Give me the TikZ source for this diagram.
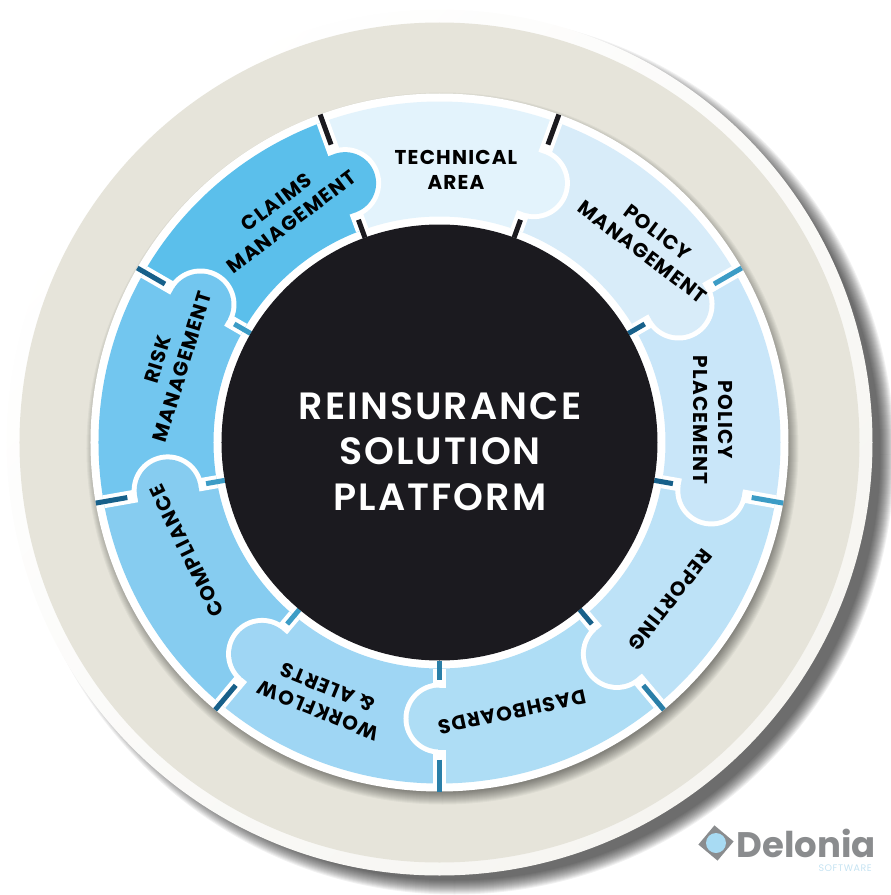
\documentclass[tikz,border=0pt]{standalone}
\usepackage{fontspec}
\setmainfont{Poppins}
\newfontfamily\titlefont{Poppins SemiBold}
\definecolor{inkblack}{HTML}{1B1A1F}
\definecolor{beige}{HTML}{E6E4DA}
\definecolor{rimwhite}{HTML}{F6F5F1}
\definecolor{techblue}{HTML}{E3F3FC}
\definecolor{pmblue}{HTML}{D8ECF9}
\definecolor{placeblue}{HTML}{C9E6F9}
\definecolor{repblue}{HTML}{BDE2F7}
\definecolor{dashblue}{HTML}{AEDDF5}
\definecolor{flowblue}{HTML}{9FD6F4}
\definecolor{compblue}{HTML}{86CCF0}
\definecolor{riskblue}{HTML}{72C6EF}
\definecolor{claimblue}{HTML}{5BBFEB}
\definecolor{tickdark}{HTML}{17608A}
\definecolor{tickmid}{HTML}{2A7FA8}
\definecolor{ticklight}{HTML}{3C9CC6}
\definecolor{logogray}{HTML}{8A8C8E}
\definecolor{logoblue}{HTML}{A8DBF3}
\definecolor{softblue}{HTML}{C5E3F2}
\tikzset{
  wheellabel/.style={font=\fontsize{20}{25}\selectfont\bfseries\addfontfeatures{LetterSpace=6},text=black,align=center,inner sep=0pt},
  tickline/.style={line width=5pt}
}
\begin{document}
\begin{tikzpicture}[x=1pt,y=1pt]
\useasboundingbox (-439.5,-452.5) rectangle (451.5,442.5);
\foreach \i in {0,...,14}
  \fill[black,opacity=0.055] (15,-12) circle (440-\i);
\shade[left color=white,right color=rimwhite,shading angle=45] (0,0) circle (433);
\fill[beige] (0,0) circle (420);
\foreach \i in {0,...,12}
  \fill[black,opacity=0.04] (3,-6) circle (356-\i);
\fill[white] (0,0) circle (349);
\foreach \a/\col [evaluate=\a as \b using \a-40] in {110/techblue,70/pmblue,30/placeblue,-10/repblue,-50/dashblue,-90/flowblue,-130/compblue,-170/riskblue,150/claimblue}
  \fill[\col] (\a:341) arc[start angle=\a,end angle=\b,radius=341] -- (\b:226) arc[start angle=\b,end angle=\a,radius=226] -- cycle;
\foreach \a in {110,70,30,-10,-50,-90,-130,-170,150}
  \draw[white,line width=13pt] (\a:226) -- (\a:341);
\foreach \a/\col in {70/techblue,30/pmblue,-10/placeblue,-50/repblue,-90/dashblue,-130/flowblue,-170/compblue,150/riskblue,110/claimblue} {
  \begin{scope}[rotate=\a]
  \fill[white] (312,0) arc[start angle=0,end angle=-180,radius=36] -- cycle;
  \fill[\col] (307,0) arc[start angle=0,end angle=-180,radius=31] -- cycle;
  \fill[\col] (245,-1) rectangle (307,8);
  \end{scope}
}
\foreach \a/\tout/\tin in {110/inkblack/inkblack,70/inkblack/inkblack,30/ticklight/tickdark,-10/ticklight/tickdark,-50/tickmid/tickdark,-90/tickmid/tickmid,-130/tickdark/ticklight,-170/tickdark/ticklight,150/tickdark/ticklight} {
  \draw[tickline,\tout] (\a:317) -- (\a:349);
  \draw[tickline,\tin] (\a:218) -- (\a:237);
}
\fill[inkblack] (0,0) circle (218);
\node[font=\fontsize{38}{45.5}\selectfont\titlefont\addfontfeatures{LetterSpace=5.5},text=white,align=center,inner sep=0pt] (title) at (0.5,-9) {REINSURANCE\\SOLUTION\\PLATFORM};
\node[wheellabel] (technical) at (16.5,272.5) {TECHNICAL\\AREA};
\node[wheellabel,rotate=-37] (policymgmt) at (210.5,200.5) {POLICY\\MANAGEMENT};
\node[wheellabel,rotate=-90] (placement) at (273.5,22.5) {POLICY\\PLACEMENT};
\node[wheellabel,rotate=-128] (reporting) at (230.5,-157.5) {REPORTING};
\node[wheellabel,rotate=-168] (dashboards) at (72.5,-269.5) {DASHBOARDS};
\node[wheellabel,rotate=158] (workflow) at (-116.5,-256.5) {WORKFLOW\\\& ALERTS};
\node[wheellabel,rotate=116] (compliance) at (-252.5,-108.5) {COMPLIANCE};
\node[wheellabel,rotate=73] (risk) at (-269.5,79.5) {RISK\\MANAGEMENT};
\node[wheellabel,rotate=37] (claims) at (-155.5,230.5) {CLAIMS\\MANAGEMENT};
\node[fill=logogray,minimum size=25pt,inner sep=0pt,rotate=50] (logomark) at (276.5,-400.5) {};
\node[circle,fill=logoblue,minimum size=20pt,inner sep=0pt] (logodot) at (logomark) {};
\node[font=\fontsize{35.5}{36}\selectfont\bfseries,text=logogray,inner sep=0pt,anchor=west] (delonia) at (297,-401) {Delonia};
\node[font=\fontsize{9.5}{10}\selectfont\addfontfeatures{LetterSpace=6},text=softblue,inner sep=0pt,anchor=east] (software) at (432.5,-425.5) {SOFTWARE};
\end{tikzpicture}
\end{document}
